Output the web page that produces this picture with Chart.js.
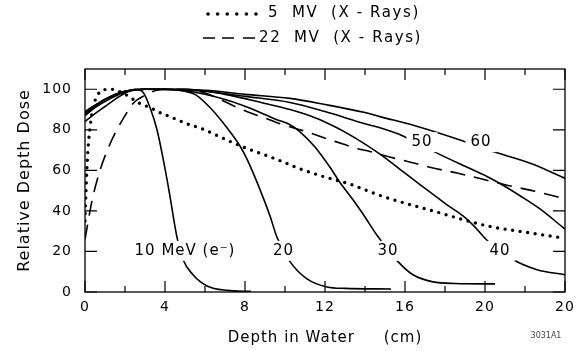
<!DOCTYPE html>
<html><head><meta charset="utf-8">
<script src="https://cdn.jsdelivr.net/npm/chart.js@4.4.0/dist/chart.umd.min.js"></script>
<style>html,body{margin:0;padding:0;background:#fff;}canvas{display:block;}</style>
</head><body>
<canvas id="c" width="584" height="351"></canvas>
<script>
// ---- tick labels ----
const xTickValues = [0, 4, 8, 12, 16, 20, 24];
const xTickLabels = ["0", "4", "8", "12", "16", "20", "20"];
const xMinorTicks = [2, 6, 10, 14, 18, 22];
const yTickValues = [0, 20, 40, 60, 80, 100];
const yTickLabels = ["0", "20", "40", "60", "80", "100"];

// ---- series (depth in cm, relative dose in %) ----
const mv5Depth = [0, 0.05, 0.1, 0.17, 0.25, 0.4, 0.6, 0.85, 1.3, 1.7, 2.1, 2.65, 3.35, 3.85, 4.25, 5.1, 5.85, 6.65, 7.4, 8.15, 9.0, 9.9, 10.6, 11.9, 13.25, 14.7, 16.25, 17.75, 18.9, 20.25, 21.75, 24];
const mv5Dose  = [35, 50, 62, 73, 81, 91, 96.5, 99.5, 100, 99, 97, 93.5, 90.5, 88, 86.5, 83, 80.5, 77, 73.6, 70.6, 67.6, 64.2, 61.3, 57, 53.2, 47.8, 43.1, 39, 35.7, 32.3, 29.9, 26.5];

const mv22Depth = [0, 0.35, 0.75, 1.25, 1.65, 2.0, 2.4, 3.0, 3.6, 4.3, 5.0, 5.9, 6.65, 7.5, 8.35, 9.1, 9.75, 10.9, 12.1, 12.9, 13.5, 14.25, 15.0, 15.75, 16.5, 17.25, 18.6, 19.85, 21.1, 22.5, 24];
const mv22Dose  = [26, 45, 60, 73, 81, 87, 93, 97, 99.5, 100, 100, 98.5, 95.5, 91.5, 88, 85.5, 83, 79.6, 75.6, 73, 71, 69.3, 67.2, 65.3, 63.5, 61.5, 58.7, 55.7, 52.7, 49.7, 46];

const e10Depth = [0, 0.5, 1, 1.5, 2, 2.5, 2.9, 3.25, 3.6, 3.9, 4.2, 4.6, 4.9, 5.4, 6.1, 7.1, 8.3];
const e10Dose  = [84, 88, 91.5, 95, 98, 100, 98.5, 91, 80, 66, 50, 27, 16, 8.5, 3, 0.8, 0.3];

const e20Depth = [0, 0.5, 1, 2, 3, 4, 5, 5.5, 6.25, 7.1, 7.75, 8.1, 8.75, 9.25, 9.6, 10.25, 11.1, 12.1, 13, 15.3];
const e20Dose  = [87, 91, 94, 98.5, 100, 100, 99, 97.5, 91, 81, 72, 65.5, 50.5, 37.5, 27, 15, 6.5, 2.5, 1.8, 1.5];

const e30Depth = [0, 1, 2, 3, 4, 6, 7.9, 9.6, 10.25, 10.75, 11.5, 12.25, 12.75, 13.4, 13.9, 14.6, 15.65, 16.4, 17.4, 18.5, 20.5];
const e30Dose  = [88, 95, 99, 100, 100, 97.5, 92, 85, 82.5, 79, 71.5, 61.5, 54, 45.5, 38.5, 28, 15, 8.5, 5, 4.2, 4];

const e40Depth = [0, 1, 2, 3, 5, 7, 9, 10.25, 11.5, 12.5, 13.5, 14.75, 15.75, 16.75, 18.1, 18.9, 19.5, 20.1, 21.4, 22.6, 24];
const e40Dose  = [88, 95, 99, 100, 100, 97.5, 93, 90, 86, 81.5, 76, 68, 60.5, 53, 43, 37.5, 32, 25.5, 16, 11, 8.5];

const e50Depth = [0, 1, 2, 3, 6, 8, 10.25, 12, 14, 14.75, 15.9, 17.5, 19, 20.1, 20.75, 21.75, 22.75, 24];
const e50Dose  = [89, 95, 99, 100, 99, 96.5, 93.5, 89, 83, 81, 77, 69, 62, 57, 53.5, 47.5, 41, 31];

const e60Depth = [0, 1, 2, 3, 6, 8, 10.25, 12, 14, 14.75, 16.5, 18.6, 20.6, 22.4, 24];
const e60Dose  = [89, 95, 99, 100, 99.5, 97.5, 95.5, 92.5, 88.5, 86.5, 82, 75.5, 68.7, 63, 56];

// ---- curve labels (anchored in data units) ----
const curveLabels     = ["10 MeV (e\u207B)", "20", "30", "40", "50", "60"];
const curveLabelDepth = [5.0, 9.93, 15.15, 20.75, 16.85, 19.8];
const curveLabelDose  = [20.3, 20.3, 20.3, 20.3, 73.9, 73.9];

const legendTexts = ["5  MV  (X - Rays)", "22  MV  (X - Rays)"];

const FONT = '"DejaVu Sans", sans-serif';

function pts(xs, ys) { return xs.map((v, i) => ({ x: v, y: ys[i] })); }
function solid(label, xs, ys) {
  return { label, data: pts(xs, ys), borderColor: '#000', borderWidth: 1.6,
    pointRadius: 0, cubicInterpolationMode: 'monotone', fill: false };
}

const decor = {
  id: 'decor',
  beforeDraw(chart) { chart.ctx.letterSpacing = '1px'; },
  afterDatasetsDraw(chart) {
    const { ctx, chartArea: a, scales: { x, y } } = chart;
    ctx.save();
    ctx.letterSpacing = '1px';
    ctx.font = '15px ' + FONT;
    ctx.textAlign = 'center';
    ctx.textBaseline = 'middle';
    curveLabels.forEach((t, i) => {
      const px = x.getPixelForValue(curveLabelDepth[i]);
      const py = y.getPixelForValue(curveLabelDose[i]);
      const w = ctx.measureText(t).width;
      ctx.fillStyle = '#fff';
      ctx.fillRect(px - w / 2 - 5, py - 10, w + 10, 20);
      ctx.fillStyle = '#000';
      ctx.fillText(t, px, py);
    });
    // frame
    ctx.strokeStyle = '#000';
    ctx.lineWidth = 1.3;
    ctx.strokeRect(a.left, a.top, a.right - a.left, a.bottom - a.top);
    // inward ticks
    ctx.lineWidth = 1.2;
    ctx.beginPath();
    xTickValues.forEach(v => {
      const px = x.getPixelForValue(v);
      ctx.moveTo(px, a.bottom); ctx.lineTo(px, a.bottom - 11);
      ctx.moveTo(px, a.top); ctx.lineTo(px, a.top + 11);
    });
    xMinorTicks.forEach(v => {
      const px = x.getPixelForValue(v);
      ctx.moveTo(px, a.bottom); ctx.lineTo(px, a.bottom - 6);
      ctx.moveTo(px, a.top); ctx.lineTo(px, a.top + 6);
    });
    yTickValues.forEach(v => {
      const py = y.getPixelForValue(v);
      ctx.moveTo(a.left, py); ctx.lineTo(a.left + 12, py);
      ctx.moveTo(a.right, py); ctx.lineTo(a.right - 12, py);
    });
    ctx.stroke();
    ctx.restore();
  },
  afterDraw(chart) {
    const ctx = chart.ctx;
    ctx.save();
    // legend samples
    ctx.fillStyle = '#000';
    for (let i = 0; i < 6; i++) {
      ctx.beginPath(); ctx.arc(208 + i * 9.6, 14, 1.8, 0, Math.PI * 2); ctx.fill();
    }
    ctx.strokeStyle = '#000'; ctx.lineWidth = 1.6;
    ctx.beginPath();
    [[203, 215], [222, 234], [243, 255]].forEach(s => { ctx.moveTo(s[0], 38); ctx.lineTo(s[1], 38); });
    ctx.stroke();
    ctx.font = '15px ' + FONT;
    ctx.letterSpacing = '1.6px';
    ctx.textAlign = 'left'; ctx.textBaseline = 'middle';
    ctx.fillText(legendTexts[0], 268, 13);
    ctx.fillText(legendTexts[1], 259, 38);
    // footnote
    ctx.letterSpacing = '0px';
    ctx.font = '8px ' + FONT;
    ctx.fillStyle = '#444';
    ctx.textAlign = 'center';
    ctx.fillText('3031A1', 546, 336);
    ctx.restore();
  }
};

new Chart(document.getElementById('c'), {
  type: 'line',
  data: {
    datasets: [
      { label: '5 MV (X-Rays)', data: pts(mv5Depth, mv5Dose), borderColor: '#000', borderWidth: 3.4,
        borderDash: [0, 7.6], borderCapStyle: 'round', pointRadius: 0, cubicInterpolationMode: 'monotone', fill: false },
      { label: '22 MV (X-Rays)', data: pts(mv22Depth, mv22Dose), borderColor: '#000', borderWidth: 1.6,
        borderDash: [15, 9], pointRadius: 0, cubicInterpolationMode: 'monotone', fill: false },
      solid('10 MeV', e10Depth, e10Dose),
      solid('20 MeV', e20Depth, e20Dose),
      solid('30 MeV', e30Depth, e30Dose),
      solid('40 MeV', e40Depth, e40Dose),
      solid('50 MeV', e50Depth, e50Dose),
      solid('60 MeV', e60Depth, e60Dose)
    ]
  },
  options: {
    responsive: false,
    animation: false,
    devicePixelRatio: 1,
    layout: { padding: { top: 69, right: 19, bottom: 0, left: 0 } },
    plugins: { legend: { display: false }, tooltip: { enabled: false } },
    scales: {
      x: {
        type: 'linear', min: 0, max: 24,
        afterFit(s) { s.height = 59; },
        afterBuildTicks(s) { s.ticks = xTickValues.map(v => ({ value: v })); },
        grid: { display: false, drawTicks: false },
        border: { display: false },
        ticks: { padding: 7, color: '#000', font: { family: FONT, size: 14 }, maxRotation: 0, autoSkip: false,
          callback: (v, i) => xTickLabels[i] },
        title: { display: true, text: 'Depth in Water     (cm)', color: '#000',
          font: { family: FONT, size: 15 }, padding: { top: 0, bottom: 4 } }
      },
      y: {
        type: 'linear', min: 0, max: 110,
        afterFit(s) { s.width = 85; },
        afterBuildTicks(s) { s.ticks = yTickValues.map(v => ({ value: v })); },
        grid: { display: false, drawTicks: false },
        border: { display: false },
        ticks: { padding: 13, color: '#000', font: { family: FONT, size: 14 }, autoSkip: false,
          callback: (v, i) => yTickLabels[i] },
        title: { display: true, text: 'Relative Depth Dose', color: '#000',
          font: { family: FONT, size: 16 }, padding: { top: 15, bottom: 0 } }
      }
    }
  },
  plugins: [decor]
});
</script>
</body></html>
